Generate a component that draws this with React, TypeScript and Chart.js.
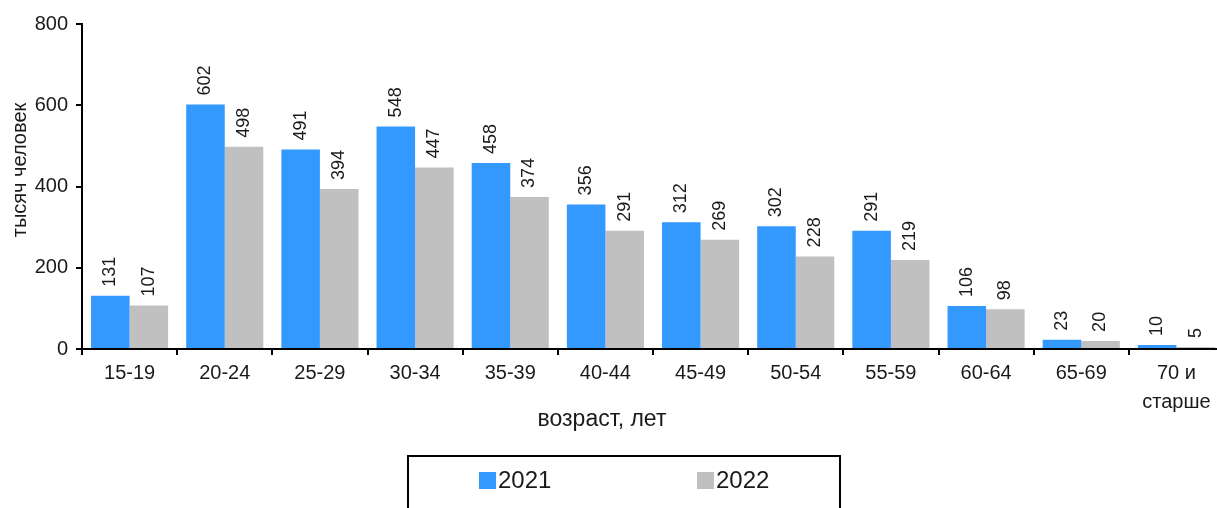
import React, { useEffect, useRef } from "react";
import { Chart, registerables } from "chart.js";

Chart.register(...registerables);

const categories: (string | string[])[] = [
  "15-19", "20-24", "25-29", "30-34", "35-39", "40-44",
  "45-49", "50-54", "55-59", "60-64", "65-69", ["70 и", "старше"],
];
const values2021 = [131, 602, 491, 548, 458, 356, 312, 302, 291, 106, 23, 10];
const values2022 = [107, 498, 394, 447, 374, 291, 269, 228, 219, 98, 20, 5];
const yTicks = [0, 200, 400, 600, 800];
const seriesNames = ["2021", "2022"];
const colors = ["#3399FF", "#C0C0C0"];
const yTitle = "тысяч человек";
const xTitle = "возраст, лет";

const FONT = "'Liberation Sans', Arial, sans-serif";
const TEXT = "#1a1a1a";

export default function App() {
  const ref = useRef<HTMLCanvasElement>(null);
  useEffect(() => {
    document.body.style.margin = "0";
    const canvas = ref.current!;
    const labelsPlugin = {
      id: "customDraw",
      afterDatasetsDraw(chart: any) {
        const ctx = chart.ctx;
        ctx.save();
        ctx.fillStyle = TEXT;
        ctx.font = `18px ${FONT}`;
        chart.data.datasets.forEach((ds: any, di: number) => {
          const meta = chart.getDatasetMeta(di);
          meta.data.forEach((bar: any, i: number) => {
            ctx.save();
            ctx.translate(bar.x, bar.y - 9);
            ctx.rotate(-Math.PI / 2);
            ctx.textAlign = "left";
            ctx.textBaseline = "middle";
            ctx.fillText(String(ds.data[i]), 0, 0);
            ctx.restore();
          });
        });
        // axis titles
        ctx.font = `23px ${FONT}`;
        ctx.textAlign = "center";
        ctx.textBaseline = "middle";
        ctx.fillText(xTitle, 602, 420);
        ctx.save();
        ctx.translate(20, 170);
        ctx.rotate(-Math.PI / 2);
        ctx.font = `20px ${FONT}`;
        ctx.fillText(yTitle, 0, 0);
        ctx.restore();
        // legend box
        ctx.strokeStyle = "#000";
        ctx.lineWidth = 2;
        ctx.strokeRect(408, 456, 432, 70);
        ctx.font = `24px ${FONT}`;
        ctx.textAlign = "left";
        ctx.textBaseline = "middle";
        const lx = [479, 697];
        seriesNames.forEach((n, k) => {
          ctx.fillStyle = colors[k];
          ctx.fillRect(lx[k], 472, 17, 17);
          ctx.fillStyle = TEXT;
          ctx.fillText(n, lx[k] + 19, 481);
        });
        ctx.restore();
      },
    };
    const chart = new Chart(canvas, {
      type: "bar",
      data: {
        labels: categories,
        datasets: [
          { label: seriesNames[0], data: values2021, backgroundColor: colors[0], categoryPercentage: 0.81, barPercentage: 1 },
          { label: seriesNames[1], data: values2022, backgroundColor: colors[1], categoryPercentage: 0.81, barPercentage: 1 },
        ],
      },
      options: {
        animation: false,
        responsive: false,
        maintainAspectRatio: false,
        layout: { padding: { top: 24, right: 8, left: 0, bottom: 0 } },
        plugins: { legend: { display: false }, tooltip: { enabled: false } },
        scales: {
          x: {
            offset: true,
            grid: { display: true, drawOnChartArea: false, offset: true, tickLength: 6, color: "#000", lineWidth: 2 },
            border: { color: "#000", width: 2 },
            ticks: { color: TEXT, font: { family: FONT, size: 20, lineHeight: 1.45 }, padding: 4, maxRotation: 0, autoSkip: false },
            afterFit(scale: any) { scale.height = 159; },
          },
          y: {
            min: 0,
            max: 800,
            afterBuildTicks(scale: any) { scale.ticks = yTicks.map((v) => ({ value: v })); },
            grid: { display: true, drawOnChartArea: false, tickLength: 6, color: "#000", lineWidth: 2 },
            border: { color: "#000", width: 2 },
            ticks: { color: TEXT, font: { family: FONT, size: 20 }, padding: 8 },
            afterFit(scale: any) { scale.width = 82; },
          },
        },
      },
      plugins: [labelsPlugin],
    });
    return () => chart.destroy();
  }, []);
  return (
    <div style={{ width: 1217, height: 508, overflow: "hidden", position: "relative" }}>
      <canvas ref={ref} width={1232} height={508} style={{ display: "block", width: 1232, height: 508 }} />
    </div>
  );
}
